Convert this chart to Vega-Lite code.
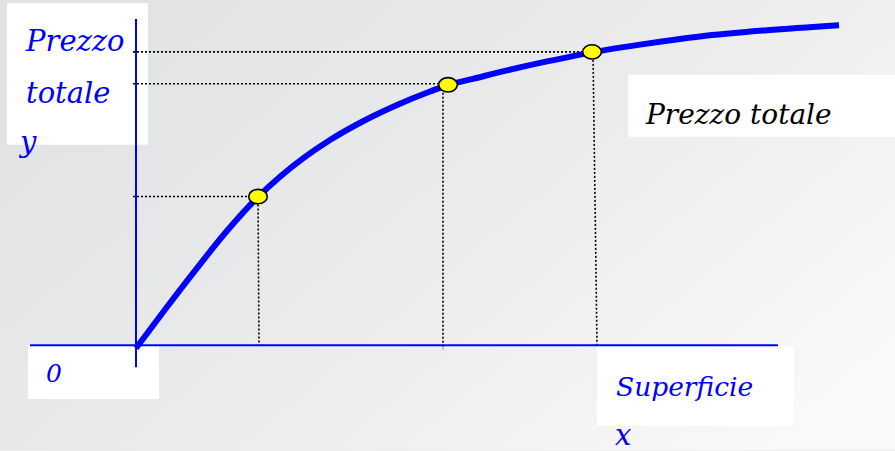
{
  "$schema": "https://vega.github.io/schema/vega-lite/v6.json",
  "width": 895,
  "height": 451,
  "autosize": {"type": "fit", "contains": "padding"},
  "padding": 0,
  "background": "#eeeeee",
  "config": {"view": {"stroke": null}},
  "encoding": {
    "x": {"field": "x", "type": "quantitative", "axis": null, "scale": {"domain": [-136, 759], "nice": false, "zero": false}},
    "y": {"field": "y", "type": "quantitative", "axis": null, "scale": {"domain": [-105, 346], "nice": false, "zero": false}}
  },
  "layer": [
    {
      "data": {"values": [{"x": -136, "x2": 759, "y": -105, "y2": 346}]},
      "mark": {"type": "rect", "color": {"gradient": "linear", "x1": 0, "y1": 0.2, "x2": 1, "y2": 0.8, "stops": [{"offset": 0, "color": "#e0e2e3"}, {"offset": 0.5, "color": "#ebebec"}, {"offset": 1, "color": "#f9f9f9"}]}},
      "encoding": {"x2": {"field": "x2"}, "y2": {"field": "y2"}}
    },
    {
      "data": {"values": [
        {"x": -129, "x2": 12, "y": 343, "y2": 201},
        {"x": -108, "x2": 23, "y": 1, "y2": -54},
        {"x": 461, "x2": 658, "y": -1, "y2": -81},
        {"x": 492, "x2": 759, "y": 271, "y2": 209}
      ]},
      "mark": {"type": "rect", "color": "#ffffff"},
      "encoding": {"x2": {"field": "x2"}, "y2": {"field": "y2"}}
    },
    {
      "data": {"values": [
        {"x": -3, "x2": 456, "y": 294, "y2": 294},
        {"x": -3, "x2": 311, "y": 262, "y2": 262},
        {"x": -3, "x2": 122, "y": 149, "y2": 149},
        {"x": 122, "x2": 123, "y": 149, "y2": 0},
        {"x": 307, "x2": 307, "y": 261, "y2": -4},
        {"x": 457, "x2": 461, "y": 294, "y2": 0}
      ]},
      "mark": {"type": "rule", "color": "#000000", "strokeWidth": 1.6, "strokeDash": [2, 2]},
      "encoding": {"x2": {"field": "x2"}, "y2": {"field": "y2"}}
    },
    {
      "data": {"values": [
        {"x": 0, "x2": 0, "y": 327, "y2": -22},
        {"x": -106, "x2": 642, "y": 0, "y2": 0}
      ]},
      "mark": {"type": "rule", "color": "#0000ff", "strokeWidth": 2},
      "encoding": {"x2": {"field": "x2"}, "y2": {"field": "y2"}}
    },
    {
      "data": {"values": [
        {"x": 0, "y": -3},
        {"x": 30, "y": 37},
        {"x": 60, "y": 76},
        {"x": 90, "y": 113.5},
        {"x": 122, "y": 148.7},
        {"x": 144, "y": 168.9},
        {"x": 167, "y": 187.3},
        {"x": 194, "y": 205.7},
        {"x": 227, "y": 224.5},
        {"x": 261, "y": 240.8},
        {"x": 294, "y": 254.3},
        {"x": 311, "y": 260.5},
        {"x": 337, "y": 267},
        {"x": 371, "y": 275.5},
        {"x": 404, "y": 283},
        {"x": 437, "y": 289.8},
        {"x": 456, "y": 293.5},
        {"x": 504, "y": 301.3},
        {"x": 564, "y": 309.5},
        {"x": 631, "y": 315.7},
        {"x": 703, "y": 320.8}
      ]},
      "mark": {"type": "line", "color": "#0000ff", "strokeWidth": 6, "interpolate": "monotone", "strokeCap": "butt"},
      "encoding": {"order": {"field": "x", "type": "quantitative"}}
    },
    {
      "data": {"values": [
        {"x": 122, "y": 149},
        {"x": 312, "y": 261},
        {"x": 456, "y": 294}
      ]},
      "mark": {"type": "point", "shape": "M-1.3,0A1.3,1,0,1,1,1.3,0A1.3,1,0,1,1,-1.3,0Z", "size": 205, "filled": true, "fill": "#ffff00", "stroke": "#000000", "strokeWidth": 1.6, "opacity": 1, "fillOpacity": 1}
    },
    {
      "data": {"values": [
        {"x": -110, "y": 295, "label": "Prezzo"},
        {"x": -110, "y": 243, "label": "totale"},
        {"x": -116, "y": 194, "label": "y"},
        {"x": 479, "y": -100, "label": "x"}
      ]},
      "mark": {"type": "text", "font": "DejaVu Serif", "fontStyle": "italic", "fontSize": 29, "color": "#0000ff", "align": "left", "baseline": "alphabetic"},
      "encoding": {"text": {"field": "label"}}
    },
    {
      "data": {"values": [{"x": 480, "y": -51, "label": "Superficie"}]},
      "mark": {"type": "text", "font": "DejaVu Serif", "fontStyle": "italic", "fontSize": 26.5, "color": "#0000ff", "align": "left", "baseline": "alphabetic"},
      "encoding": {"text": {"field": "label"}}
    },
    {
      "data": {"values": [{"x": -90, "y": -37, "label": "0"}]},
      "mark": {"type": "text", "font": "DejaVu Serif", "fontStyle": "italic", "fontSize": 25, "color": "#0000ff", "align": "left", "baseline": "alphabetic"},
      "encoding": {"text": {"field": "label"}}
    },
    {
      "data": {"values": [{"x": 510, "y": 222, "label": "Prezzo totale"}]},
      "mark": {"type": "text", "font": "DejaVu Serif", "fontStyle": "italic", "fontSize": 28, "color": "#000000", "align": "left", "baseline": "alphabetic"},
      "encoding": {"text": {"field": "label"}}
    }
  ]
}
